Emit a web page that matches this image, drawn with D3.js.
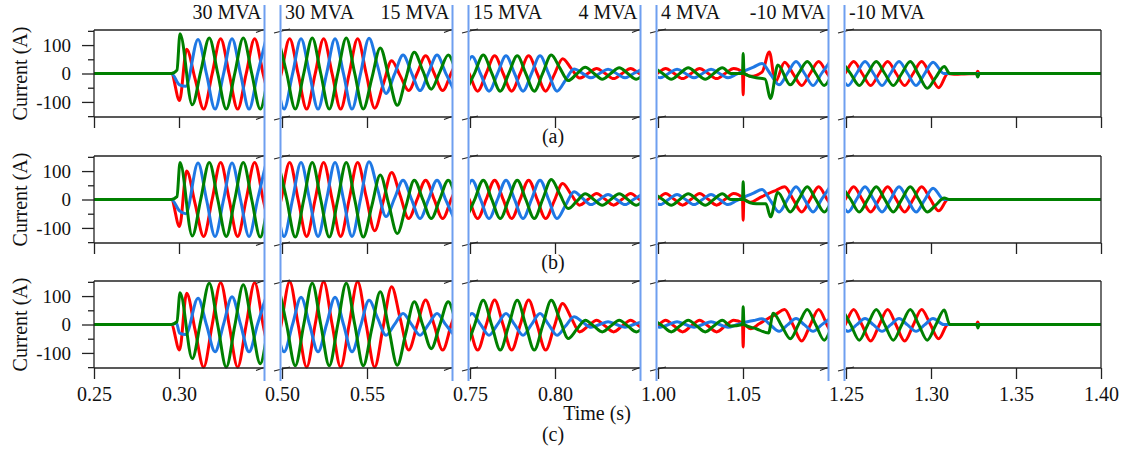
<!DOCTYPE html>
<html>
<head>
<meta charset="utf-8">
<script src="https://cdn.jsdelivr.net/npm/d3@7"></script>
<style>
  html, body { margin: 0; padding: 0; background: #fff; }
  svg { display: block; }
  text { font-family: "Liberation Serif", "Times New Roman", "DejaVu Serif", serif; fill: #111; }
</style>
</head>
<body>
<svg id="chart" width="1126" height="452"></svg>
<script>
// ---------------- data ----------------
const segDomains = [[0.25, 0.35], [0.50, 0.60], [0.75, 0.85], [1.00, 1.10], [1.25, 1.40]];
const xTickValues = [[0.25, 0.30], [0.50, 0.55], [0.75, 0.80], [1.00, 1.05], [1.25, 1.30, 1.35, 1.40]];
const breakLabels = [["30 MVA", "30 MVA"], ["15 MVA", "15 MVA"], ["4 MVA", "4 MVA"], ["-10 MVA", "-10 MVA"]];
const panelNames = ["(a)", "(b)", "(c)"];
const yMajorTicks = [-100, 0, 100];
const yMinorTicks = [-150, -50, 50, 150];
const yDomain = [-153, 153];

// half-cycle peak time offsets (s, modulo 0.01) of each phase
const phaseNames = ["red", "blue", "green"];
const phaseOffsets = [0.0045, 0.0012, 0.0078];

// peak values (A) on the half-cycle grid of each segment, per panel and phase
const redA = [
  [0, 0, 0, 0, 0, 0, 85, -125, 122, -125, 122, -125],
  [-125, 122, -125, 122, -125, 122, -122, 45, -60, 62, -60, 62],
  [60, -62, 62, -62, 62, -62, 52, -16, 18, -18, 18, -18],
  [-18, 18, -18, 18, -18, 18, -10, 70, 40, -42, 42, -42],
  [-40, 42, -42, 42, -42, 42, -50, -3]
];
const blueA = [
  [0, 0, 0, 0, 0, 0, -45, 120, -125, 122, -125, 122],
  [122, -125, 122, -125, 122, -125, 124, -70, 65, -60, 65, -60],
  [-60, 60, -62, 62, -62, 62, -62, 16, -15, 15, -15, 15],
  [15, -15, 15, -15, 15, -15, 10, 35, -40, 42, -42, 42],
  [40, -42, 42, -42, 42, -42, 40, 0]
];
const greenA = [
  [0, 0, 0, 0, 0, 0, -110, 125, -125, 125, -125, 125],
  [125, -125, 125, -125, 125, -125, 90, -112, 75, -55, 65, -60],
  [-60, 65, -62, 62, -62, 65, -25, 22, -20, 20, -20, 20],
  [20, -20, 20, -20, 20, -20, -15, -88, -40, 42, -42, 42],
  [40, -42, 42, -42, 42, -52, 25, 0]
];
const redB = [
  [0, 0, 0, 0, 0, 0, 100, -130, 130, -130, 130, -130],
  [-130, 130, -130, 130, -130, 130, -110, 95, -67, 68, -67, 68],
  [68, -67, 68, -67, 68, -67, 56, -20, 21, -20, 21, -20],
  [-20, 21, -20, 21, -20, 21, -10, 20, 45, -44, 45, -44],
  [-44, 45, -44, 45, -44, 45, -40, 0]
];
const blueB = [
  [0, 0, 0, 0, 0, 0, -50, 128, -130, 128, -130, 128],
  [130, -130, 130, -130, 130, -130, 133, -60, 68, -67, 68, -67],
  [-67, 68, -67, 68, -67, 68, -67, 27, -18, 18, -18, 18],
  [18, -18, 18, -18, 18, -18, 10, 35, -44, 45, -44, 45],
  [44, -44, 45, -44, 45, -44, 40, 0]
];
const greenB = [
  [0, 0, 0, 0, 0, 0, -128, 130, -130, 130, -132, 130],
  [130, -132, 130, -132, 130, -132, 86, -120, 68, -67, 68, -67],
  [-67, 68, -67, 68, -67, 70, -32, 20, -20, 20, -20, 20],
  [20, -20, 20, -20, 20, -20, -15, -61, -44, 45, -44, 45],
  [44, -44, 45, -44, 45, -44, 5, 0]
];
const redC = [
  [0, 0, 0, 0, 0, 0, 110, -150, 147, -150, 147, -150],
  [-150, 150, -150, 150, -150, 150, -150, 133, -90, 86, -90, 86],
  [86, -90, 86, -90, 86, -90, 74, -26, 15, -26, 15, -26],
  [-26, 15, -26, 15, -26, 15, -15, 20, 53, -58, 53, -58],
  [-55, 53, -58, 53, -58, 53, -50, 0]
];
const blueC = [
  [0, 0, 0, 0, 0, 0, -35, 92, -96, 98, -96, 98],
  [96, -96, 96, -96, 96, -96, 85, -38, 39, -38, 39, -38],
  [-38, 39, -38, 39, -38, 39, -38, 27, -10, 10, -10, 10],
  [10, -10, 10, -10, 10, -10, 8, 20, -24, 21, -24, 21],
  [21, -24, 21, -24, 21, -24, 21, 0]
];
const greenC = [
  [0, 0, 0, 0, 0, 0, -120, 145, -150, 140, -138, 140],
  [140, -145, 145, -145, 145, -145, 115, -143, 80, -85, 80, -85],
  [-85, 85, -90, 85, -90, 85, -49, 15, -26, 15, -26, 15],
  [15, -26, 15, -26, 15, -26, -15, 40, -50, 53, -55, 53],
  [53, -55, 53, -55, 53, -55, 51, 0]
];

// transient knots [time (s), current (A)]
const redAx = [[0.2955, 0], [0.3003, -95], [1.0497, 5], [1.0501, -75], [1.0505, 0], [1.0612, 5], [1.0655, 76], [1.0690, -30], [1.3100, 0], [1.3268, 0], [1.3275, 8], [1.3282, 0]];
const blueAx = [[0.2955, 0], [0.3003, -40], [0.3040, -45], [1.3075, 0]];
const greenAx = [[0.2955, 0], [0.2988, 12], [0.3006, 140], [1.0497, 0], [1.0501, 70], [1.0506, 0], [1.0630, -20], [1.0662, -88], [1.0705, 30], [1.3110, 0], [1.3266, 0], [1.3275, -12], [1.3284, 0]];
const redBx = [[0.2955, 0], [0.3003, -95], [1.0497, 5], [1.0501, -73], [1.0505, 0], [1.3100, 0]];
const blueBx = [[0.2955, 0], [0.3003, -40], [0.3040, -50], [1.3075, 0]];
const greenBx = [[0.2955, 0], [0.2988, 10], [0.3006, 130], [1.0497, 0], [1.0501, 62], [1.0506, 0], [1.0635, -15], [1.0662, -61], [1.0705, 25], [1.3110, 0]];
const redCx = [[0.2955, 0], [0.3003, -90], [1.0497, 5], [1.0501, -79], [1.0505, 0], [1.3100, 0], [1.3268, 0], [1.3275, 9], [1.3282, 0]];
const blueCx = [[0.2955, 0], [0.2985, 5], [0.3003, -30], [0.3040, -35], [1.3075, 0]];
const greenCx = [[0.2955, 0], [0.2988, 10], [0.3006, 112], [1.0497, 0], [1.0501, 62], [1.0506, 0], [1.0650, -30], [1.3110, 0], [1.3268, 0], [1.3276, -12], [1.3284, 0]];

const panelPeaks = [[redA, blueA, greenA], [redB, blueB, greenB], [redC, blueC, greenC]];
const panelKnots = [[redAx, blueAx, greenAx], [redBx, blueBx, greenBx], [redCx, blueCx, greenCx]];

// ---------------- layout ----------------
const W = 1126, H = 452;
const left = 94, segPitch = 188, pxPerSec = 1700;
const panelTops = [30, 156, 281], panelH = 87;
const colors = { red: "#ff0000", blue: "#1f78e4", green: "#008000" };
const breakBlue = "#6f9ff0";
const axisColor = "#222";
const serif = '"Liberation Serif", "Times New Roman", "DejaVu Serif", serif';

const svg = d3.select("#chart");
svg.append("rect").attr("width", W).attr("height", H).attr("fill", "#fff");

const xScales = segDomains.map((d, i) =>
  d3.scaleLinear().domain(d).range([left + i * segPitch, left + i * segPitch + (d[1] - d[0]) * pxPerSec]));
const xRight = xScales[4].range()[1];

function buildPoints(vals, off, dom, knots) {
  const first = off + Math.ceil((dom[0] - 0.01 - off) / 0.01 - 1e-6) * 0.01;
  const n = Math.floor((dom[1] + 0.01 - first) / 0.01 + 1e-6) + 1;
  const v = d3.range(n).map(i => (i < vals.length ? vals[i] : 0));
  let pts = [];
  for (let i = 0; i < n; i++) {
    pts.push([first + i * 0.01, v[i]]);
    if (i < n - 1) pts.push([first + i * 0.01 + 0.005, (v[i] + v[i + 1]) / 2]);
  }
  const ex = knots.filter(k => k[0] >= dom[0] - 0.01 && k[0] <= dom[1] + 0.01);
  pts = pts.filter(p => !ex.some(k => Math.abs(k[0] - p[0]) < 0.0025));
  return pts.concat(ex).sort((a, b) => a[0] - b[0]);
}

const defs = svg.append("defs");

panelTops.forEach((top, pi) => {
  const y = d3.scaleLinear().domain(yDomain).range([top + panelH, top]);
  const g = svg.append("g");

  xScales.forEach((xs, si) => {
    defs.append("clipPath").attr("id", `clip-${pi}-${si}`)
      .append("rect")
      .attr("x", xs.range()[0]).attr("y", top - 2)
      .attr("width", xs.range()[1] - xs.range()[0]).attr("height", panelH + 4);
  });

  // waveforms
  xScales.forEach((xs, si) => {
    const sg = g.append("g").attr("clip-path", `url(#clip-${pi}-${si})`);
    phaseNames.forEach((ph, k) => {
      const pts = buildPoints(panelPeaks[pi][k][si], phaseOffsets[k], segDomains[si], panelKnots[pi][k]);
      const line = d3.line().x(d => xs(d[0])).y(d => y(d[1])).curve(d3.curveMonotoneX);
      sg.append("path").attr("d", line(pts))
        .attr("fill", "none").attr("stroke", colors[ph]).attr("stroke-width", 3)
        .attr("stroke-linejoin", "round");
    });
  });

  // frame
  xScales.forEach(xs => {
    const [x0, x1] = xs.range();
    [top, top + panelH].forEach(yy => {
      g.append("line").attr("x1", x0).attr("x2", x1).attr("y1", yy).attr("y2", yy)
        .attr("stroke", axisColor).attr("stroke-width", 1.3);
    });
  });
  [left, xRight].forEach(xx => {
    g.append("line").attr("x1", xx).attr("x2", xx).attr("y1", top).attr("y2", top + panelH)
      .attr("stroke", axisColor).attr("stroke-width", 1.3);
  });

  // break marks
  for (let b = 0; b < 4; b++) {
    const xe = xScales[b].range()[1], xs0 = xScales[b + 1].range()[0];
    [top, top + panelH].forEach(yy => {
      g.append("line").attr("x1", xe - 8).attr("y1", yy + 2.5).attr("x2", xe).attr("y2", yy - 0.5)
        .attr("stroke", axisColor).attr("stroke-width", 1.1);
      g.append("line").attr("x1", xs0 - 8).attr("y1", yy + 3).attr("x2", xs0 + 8).attr("y2", yy - 1)
        .attr("stroke", axisColor).attr("stroke-width", 1.1);
    });
  }

  // y axis
  const yAxis = g.append("g").attr("transform", `translate(${left},0)`)
    .call(d3.axisLeft(y).tickValues(yMajorTicks).tickSize(12).tickPadding(11).tickFormat(d => String(d)));
  yAxis.select(".domain").remove();
  yAxis.attr("font-family", null);
  yAxis.selectAll(".tick line").attr("stroke", axisColor).attr("stroke-width", 1.3);
  yAxis.selectAll(".tick text").style("font-family", serif).style("font-size", "19px").attr("fill", "#111");
  const yMinor = g.append("g").attr("transform", `translate(${left},0)`)
    .call(d3.axisLeft(y).tickValues(yMinorTicks).tickSize(6).tickFormat(""));
  yMinor.select(".domain").remove();
  yMinor.selectAll(".tick line").attr("stroke", axisColor).attr("stroke-width", 1.3);

  // x axes
  xScales.forEach((xs, si) => {
    const ax = g.append("g").attr("transform", `translate(0,${top + panelH})`)
      .call(d3.axisBottom(xs).tickValues(xTickValues[si]).tickSize(11).tickSizeOuter(0).tickPadding(8)
        .tickFormat(pi === 2 ? d3.format(".2f") : () => ""));
    ax.select(".domain").remove();
    ax.attr("font-family", null);
    ax.selectAll(".tick line").attr("stroke", axisColor).attr("stroke-width", 1.3);
    ax.selectAll(".tick text").style("font-family", serif).style("font-size", "20px").attr("fill", "#111");
  });

  // y title
  g.append("text").attr("transform", `translate(27,${top + panelH / 2}) rotate(-90)`)
    .attr("text-anchor", "middle").style("font-family", serif).style("font-size", "20px").text("Current (A)");
});

// panel captions
const captionY = [143, 268.5, 441];
panelNames.forEach((t, i) => {
  svg.append("text").attr("x", 553).attr("y", captionY[i]).attr("text-anchor", "middle")
    .style("font-family", serif).style("font-size", "20px").text(t);
});
svg.append("text").attr("x", 597).attr("y", 420).attr("text-anchor", "middle")
  .style("font-family", serif).style("font-size", "20px").text("Time (s)");

// blue break lines and MVA labels
for (let b = 0; b < 4; b++) {
  const xe = xScales[b].range()[1] + 0.5, xs0 = xScales[b + 1].range()[0] - 1.5;
  [xe, xs0].forEach(xx => {
    svg.append("line").attr("x1", xx).attr("x2", xx).attr("y1", 5).attr("y2", 381)
      .attr("stroke", breakBlue).attr("stroke-width", 2);
  });
  svg.append("text").attr("x", xe - 3).attr("y", 19).attr("text-anchor", "end")
    .style("font-family", serif).style("font-size", "20px").text(breakLabels[b][0]);
  svg.append("text").attr("x", xs0 + 4.5).attr("y", 19).attr("text-anchor", "start")
    .style("font-family", serif).style("font-size", "20px").text(breakLabels[b][1]);
}
</script>
</body>
</html>
